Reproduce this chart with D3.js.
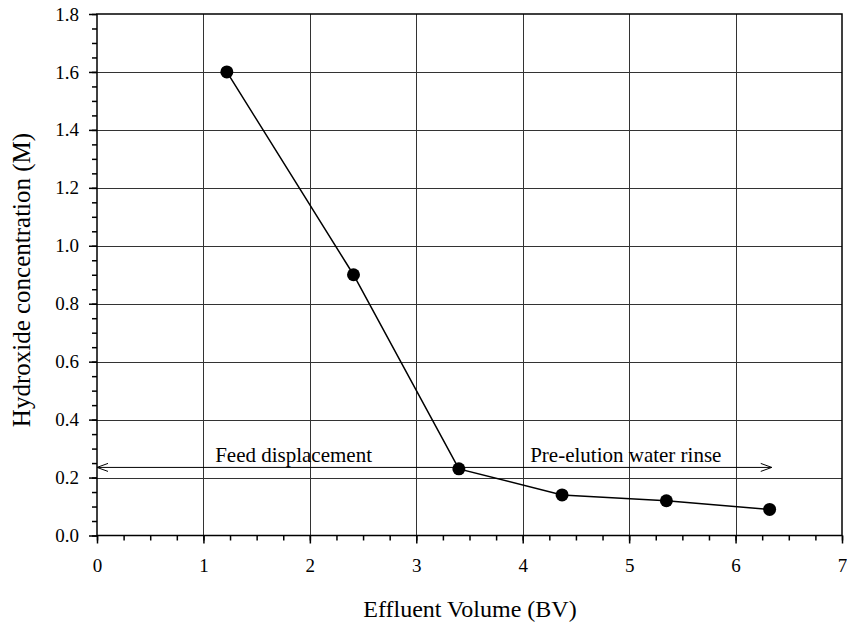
<!DOCTYPE html>
<html lang="en">
<head>
<meta charset="UTF-8">
<title>hydroxide rinse</title>
<script src="https://d3js.org/d3.v7.min.js"></script>
<style>
	body { margin: 0; background: #fff; }
	text { font-family: "Liberation Serif", "Times New Roman", serif; fill: #000; }
	.grid line { stroke: #333; stroke-width: 1; shape-rendering: crispEdges; }
	.axis path { display: none; }
	.axis line { stroke: #000; stroke-width: 1.5; }
	.axis text { font-size: 19px; font-family: "Liberation Serif", "Times New Roman", serif; }
</style>
</head>
<body>
<script>
// effluent volume (BV) vs hydroxide concentration (M)
var volume = [1.22, 2.41, 3.40, 4.37, 5.35, 6.32];
var conc = [1.60, 0.90, 0.23, 0.14, 0.12, 0.09];

var xTicks = [0, 1, 2, 3, 4, 5, 6, 7];
var yTicks = [0, 0.2, 0.4, 0.6, 0.8, 1.0, 1.2, 1.4, 1.6, 1.8];

// arrow for the two phases
var arrowFrom = 0, arrowTo = 6.34, arrowLevel = 0.235;
var labels = [
	{text: 'Feed displacement', x: 1.11, y: 0.255},
	{text: 'Pre-elution water rinse', x: 4.07, y: 0.255}
];

var W = 847, H = 624;
var margin = {top: 14, left: 97, bottom: 88.5, right: 5};
var width = W - margin.left - margin.right;
var height = H - margin.top - margin.bottom;

var svg = d3.select('body').append('svg')
	.attr('width', W)
	.attr('height', H)
	.append('g')
	.attr('transform', 'translate(' + margin.left + ',' + margin.top + ')');

var x = d3.scaleLinear().domain([0, 7]).range([0, width]);
var y = d3.scaleLinear().domain([0, 1.8]).range([height, 0]);

// grid
var grid = svg.append('g').attr('class', 'grid');
grid.selectAll('.gx').data(xTicks.slice(1, -1)).enter().append('line')
	.attr('x1', function (d) { return Math.round(x(d)) + 0.5; })
	.attr('x2', function (d) { return Math.round(x(d)) + 0.5; })
	.attr('y1', 0).attr('y2', height);
grid.selectAll('.gy').data(yTicks.slice(1, -1)).enter().append('line')
	.attr('y1', function (d) { return Math.round(y(d)) + 0.5; })
	.attr('y2', function (d) { return Math.round(y(d)) + 0.5; })
	.attr('x1', 0).attr('x2', width);

// minor ticks
var xMinor = d3.range(0, 7.001, 0.25);
var yMinor = d3.range(0, 1.8001, 0.05);
svg.append('g').attr('class', 'axis')
	.attr('transform', 'translate(0,' + height + ')')
	.call(d3.axisBottom(x).tickValues(xMinor).tickSize(5).tickFormat(''));
svg.append('g').attr('class', 'axis')
	.call(d3.axisLeft(y).tickValues(yMinor).tickSize(5).tickFormat(''));

// major ticks
svg.append('g').attr('class', 'axis')
	.attr('transform', 'translate(0,' + height + ')')
	.call(d3.axisBottom(x).tickValues(xTicks).tickSize(8).tickPadding(15).tickFormat(d3.format('d')));
svg.append('g').attr('class', 'axis')
	.call(d3.axisLeft(y).tickValues(yTicks).tickSize(8).tickPadding(10).tickFormat(d3.format('.1f')));

// frame
svg.append('rect')
	.attr('width', width).attr('height', height)
	.style('fill', 'none').style('stroke', '#000').style('stroke-width', 1.5);

// axis titles
svg.append('text')
	.attr('x', width / 2 + 0.5)
	.attr('y', height + 81.5)
	.style('text-anchor', 'middle')
	.style('font-size', '24px')
	.text('Effluent Volume (BV)');

svg.append('text')
	.attr('transform', 'rotate(-90)')
	.attr('x', -266)
	.attr('y', -67)
	.style('text-anchor', 'middle')
	.style('font-size', '25px')
	.text('Hydroxide concentration (M)');

// phase arrow
var ay = y(arrowLevel);
svg.append('line')
	.attr('x1', x(arrowFrom)).attr('x2', x(arrowTo))
	.attr('y1', ay).attr('y2', ay)
	.style('stroke', '#000').style('stroke-width', 1);
svg.append('path')
	.attr('d', 'M' + (x(arrowFrom) + 11) + ',' + (ay - 4) + 'L' + x(arrowFrom) + ',' + ay + 'L' + (x(arrowFrom) + 11) + ',' + (ay + 4))
	.style('fill', 'none').style('stroke', '#000').style('stroke-width', 1);
svg.append('path')
	.attr('d', 'M' + (x(arrowTo) - 11) + ',' + (ay - 4) + 'L' + x(arrowTo) + ',' + ay + 'L' + (x(arrowTo) - 11) + ',' + (ay + 4))
	.style('fill', 'none').style('stroke', '#000').style('stroke-width', 1);

svg.selectAll('.lbl').data(labels).enter().append('text')
	.attr('x', function (d) { return x(d.x); })
	.attr('y', function (d) { return y(d.y); })
	.style('font-size', '21px')
	.text(function (d) { return d.text; });

// data line + dots
var pts = volume.map(function (v, i) { return [v, conc[i]]; });
svg.append('path')
	.datum(pts)
	.attr('d', d3.line().x(function (d) { return x(d[0]); }).y(function (d) { return y(d[1]); }))
	.style('fill', 'none').style('stroke', '#000').style('stroke-width', 1.5);

svg.selectAll('.dot').data(pts).enter().append('circle')
	.attr('class', 'dot')
	.attr('cx', function (d) { return x(d[0]); })
	.attr('cy', function (d) { return y(d[1]); })
	.attr('r', 6.5)
	.style('fill', '#000');
</script>
</body>
</html>
